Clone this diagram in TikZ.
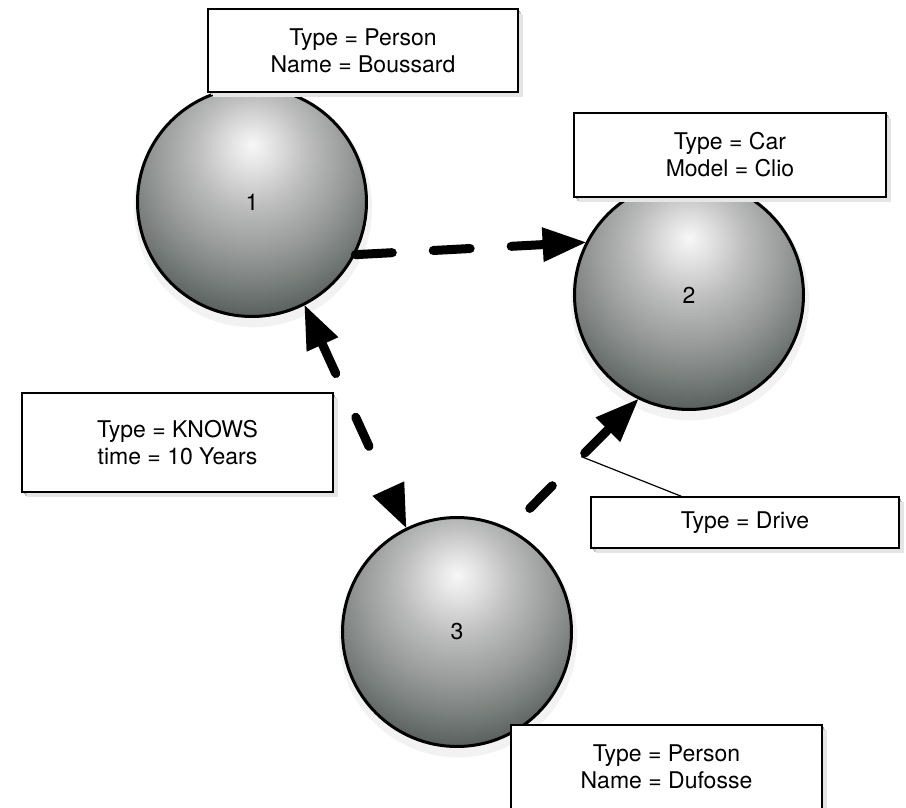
\documentclass[tikz,border=0pt]{standalone}
\usepackage{fontspec}
\setmainfont{TeX Gyre Heros}
\usetikzlibrary{arrows.meta,shadows}

\pgfdeclareradialshading{sphere}{\pgfqpoint{0bp}{12.5bp}}{%
rgb(0bp)=(0.97,0.97,0.97);
rgb(5bp)=(0.88,0.88,0.88);
rgb(12bp)=(0.74,0.745,0.74);
rgb(20bp)=(0.61,0.62,0.615);
rgb(27bp)=(0.48,0.50,0.49);
rgb(33bp)=(0.35,0.38,0.37);
rgb(36bp)=(0.29,0.32,0.31);
rgb(100bp)=(0.29,0.32,0.31)}

\tikzset{
  labelfont/.style={font=\fontsize{23}{27}\selectfont},
  softshadow/.style={
    general shadow={shadow xshift=1.5pt, shadow yshift=-2pt, fill=black!40},
    general shadow={shadow xshift=3pt, shadow yshift=-3.5pt, fill=black!22},
    general shadow={shadow xshift=4.5pt, shadow yshift=-5pt, fill=black!10}},
  roundshadow/.style={
    general shadow={shadow xshift=0pt, shadow yshift=-2pt, fill=black!18},
    general shadow={shadow xshift=1pt, shadow yshift=-4pt, shadow scale=1.02, fill=black!10},
    general shadow={shadow xshift=1pt, shadow yshift=-6pt, shadow scale=1.04, fill=black!5}},
  spherenode/.style={circle, draw=black, line width=3pt, minimum size=229pt,
    inner sep=0pt, shading=sphere, labelfont, roundshadow},
  infobox/.style={draw=black, line width=1.4pt, fill=white, align=center,
    inner sep=0pt, labelfont, softshadow},
  bigtip/.tip={Triangle[length=43pt,width=35pt,line width=0pt]},
  relation/.style={line width=9pt, line cap=round, draw=black},
  callout/.style={line width=1.2pt, draw=black},
}

\begin{document}
\begin{tikzpicture}[x=1pt,y=-1pt]
\useasboundingbox (0,0) rectangle (906,808);

% graph nodes
\node[spherenode] (c1) at (252,202) {1};
\node[spherenode] (c2) at (689,295) {2};
\node[spherenode] (c3) at (457,632) {3};

% property boxes
\node[infobox, minimum width=310pt, minimum height=83pt] (b1) at (363,50.5) {Type = Person\\Name = Boussard};
\node[infobox, minimum width=312pt, minimum height=84pt] (b2) at (730,155) {Type = Car\\Model = Clio};
\node[infobox, minimum width=311pt, minimum height=99pt] (b3) at (177.5,442.5) {Type = KNOWS\\time = 10 Years};
\node[infobox, minimum width=308pt, minimum height=51pt] (b4) at (745,522.5) {Type = Drive};
\node[infobox, minimum width=311pt, minimum height=84pt] (b5) at (666.5,767) {Type = Person\\Name = Dufosse};

% relations
\draw[relation, -bigtip, dash pattern=on 37pt off 41pt] (c1.-27) -- (c2.153.9);
\draw[relation, bigtip-bigtip, dash pattern=on 32pt off 48pt] (c1.-63.4) -- (c3.116.3);
\draw[relation, -bigtip, dash pattern=on 32pt off 46pt, dash phase=49.5pt]
  (c3.63.7) -- coordinate[pos=0.557] (dv) (c2.-116.6);

% callout to the Drive label
\coordinate (dvend) at ([xshift=91pt]b4.north west);
\draw[callout] (dv) -- (dvend);
\end{tikzpicture}
\end{document}
